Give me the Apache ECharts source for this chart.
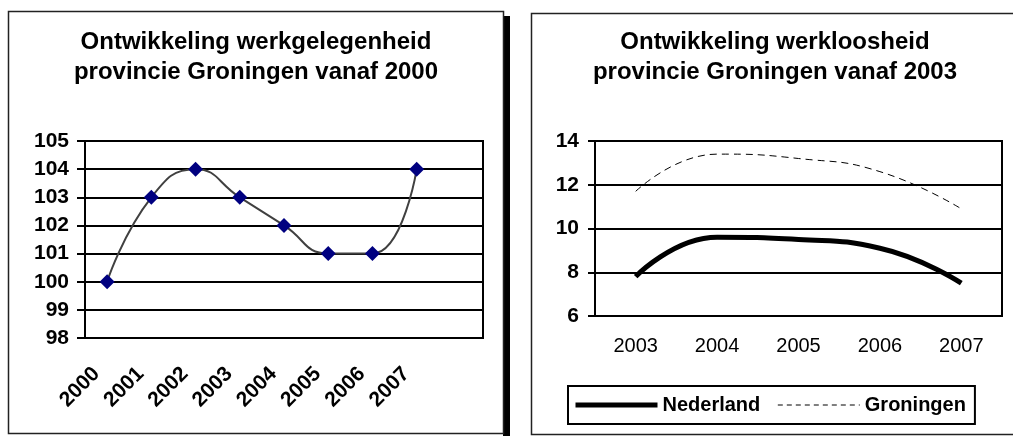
<!DOCTYPE html>
<html>
<head>
<meta charset="utf-8">
<script src="https://cdn.jsdelivr.net/npm/echarts@6/dist/echarts.min.js"></script>
<style>
  html, body { margin: 0; padding: 0; background: #fff; }
  #chart { width: 1013px; height: 436px; }
</style>
</head>
<body>
<div id="chart"></div>
<script>
// werkgelegenheid (index, 2000 = 100)
var jarenWerk = ['2000', '2001', '2002', '2003', '2004', '2005', '2006', '2007', ''];
var werkgelegenheid = [100, 103, 104, 103, 102, 101, 101, 104];

// werkloosheid (%)
var jarenWerkloos = ['2003', '2004', '2005', '2006', '2007'];
var nederland = [7.8, 9.6, 9.5, 9.1, 7.5];
var groningen = [11.7, 13.4, 13.2, 12.6, 10.9];

var font = '"Liberation Sans", Arial, sans-serif';

var myChart = echarts.init(document.getElementById('chart'));

var option = {
    backgroundColor: '#fff',
    animation: false,
    textStyle: { fontFamily: font, color: '#000' },
    graphic: [
        // kader links met schaduw
        { type: 'rect', shape: { x: 503, y: 16, width: 7, height: 422 }, style: { fill: '#000' }, z: -2 },
        { type: 'rect', shape: { x: 8.5, y: 11.5, width: 495, height: 422 }, style: { fill: '#fff', stroke: '#222', lineWidth: 1.5 }, z: -1 },
        // kader rechts
        { type: 'rect', shape: { x: 531.5, y: 13.5, width: 495, height: 421 }, style: { fill: '#fff', stroke: '#222', lineWidth: 1.5 }, z: -1 }
    ],
    title: [{
        text: 'Ontwikkeling werkgelegenheid\nprovincie Groningen vanaf 2000',
        left: 256,
        top: 27,
        padding: 0,
        textAlign: 'center',
        textStyle: { fontFamily: font, fontSize: 24, fontWeight: 'bold', lineHeight: 30, color: '#000' }
    }, {
        text: 'Ontwikkeling werkloosheid\nprovincie Groningen vanaf 2003',
        left: 775,
        top: 27,
        padding: 0,
        textAlign: 'center',
        textStyle: { fontFamily: font, fontSize: 24, fontWeight: 'bold', lineHeight: 30, color: '#000' }
    }],
    legend: {
        left: 568,
        top: 386,
        padding: [9, 9, 9, 5],
        itemWidth: 82,
        itemHeight: 20,
        itemGap: 17,
        borderColor: '#000',
        borderWidth: 2,
        borderRadius: 0,
        itemStyle: { opacity: 0 },
        textStyle: { fontFamily: font, fontSize: 20, fontWeight: 'bold', color: '#000' },
        data: [
            { name: 'Nederland', lineStyle: { width: 5 } },
            { name: 'Groningen', lineStyle: { width: 1, type: [5, 4] } }
        ]
    },
    grid: [
        { left: 85, top: 141, width: 398, height: 197, show: true, borderColor: '#000', borderWidth: 2, backgroundColor: 'transparent' },
        { left: 595, top: 141, width: 407, height: 175, show: true, borderColor: '#000', borderWidth: 2, backgroundColor: 'transparent' }
    ],
    xAxis: [{
        type: 'category',
        gridIndex: 0,
        data: jarenWerk,
        boundaryGap: true,
        axisLine: { lineStyle: { color: '#000', width: 2 } },
        axisTick: { length: 7, lineStyle: { color: '#000', width: 2 } },
        axisLabel: {
            interval: 0,
            rotate: 45,
            margin: 22,
            padding: [0, 15, 0, 0],
            fontFamily: font,
            fontSize: 21,
            fontWeight: 'bold',
            color: '#000'
        }
    }, {
        type: 'category',
        gridIndex: 1,
        data: jarenWerkloos,
        boundaryGap: true,
        axisLine: { lineStyle: { color: '#000', width: 2 } },
        axisTick: { length: 7, lineStyle: { color: '#000', width: 2 } },
        axisLabel: { interval: 0, margin: 20, fontFamily: font, fontSize: 20, color: '#000' }
    }],
    yAxis: [{
        type: 'value',
        gridIndex: 0,
        min: 98,
        max: 105,
        interval: 1,
        axisLine: { show: true, lineStyle: { color: '#000', width: 2 } },
        axisTick: { show: true, length: 8, lineStyle: { color: '#000', width: 2 } },
        splitLine: { lineStyle: { color: '#000', width: 2 } },
        axisLabel: { margin: 16, fontFamily: font, fontSize: 21, fontWeight: 'bold', color: '#000' }
    }, {
        type: 'value',
        gridIndex: 1,
        min: 6,
        max: 14,
        interval: 2,
        axisLine: { show: true, lineStyle: { color: '#000', width: 2 } },
        axisTick: { show: true, length: 7, lineStyle: { color: '#000', width: 2 } },
        splitLine: { lineStyle: { color: '#000', width: 2 } },
        axisLabel: { margin: 16, fontFamily: font, fontSize: 21, fontWeight: 'bold', color: '#000' }
    }],
    series: [{
        name: 'Werkgelegenheid',
        type: 'line',
        xAxisIndex: 0,
        yAxisIndex: 0,
        smooth: true,
        symbol: 'diamond',
        symbolSize: [15, 15],
        itemStyle: { color: '#000080' },
        lineStyle: { color: '#404040', width: 2 },
        data: werkgelegenheid,
        z: 5
    }, {
        name: 'Nederland',
        type: 'line',
        xAxisIndex: 1,
        yAxisIndex: 1,
        smooth: true,
        symbol: 'none',
        itemStyle: { color: '#000' },
        lineStyle: { color: '#000', width: 5 },
        data: nederland,
        z: 5
    }, {
        name: 'Groningen',
        type: 'line',
        xAxisIndex: 1,
        yAxisIndex: 1,
        smooth: true,
        symbol: 'none',
        itemStyle: { color: '#000' },
        lineStyle: { color: '#000', width: 1, type: [7, 5] },
        data: groningen,
        z: 5
    }]
};

myChart.setOption(option);
</script>
</body>
</html>
